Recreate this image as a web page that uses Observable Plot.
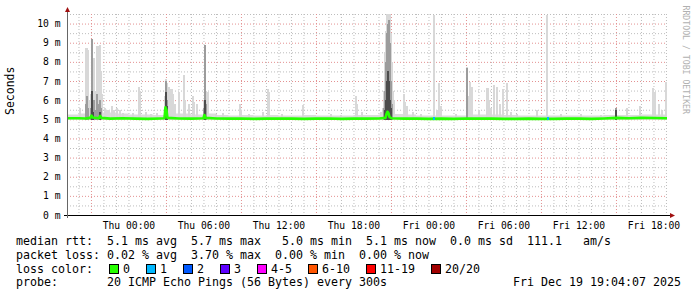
<!DOCTYPE html>
<html><head><meta charset="utf-8">
<script src="https://cdn.jsdelivr.net/npm/d3@7"></script>
<script src="https://cdn.jsdelivr.net/npm/@observablehq/plot@0.6"></script>
<style>
body{margin:0;background:#fff;}
#wrap{position:relative;width:697px;height:297px;overflow:hidden;background:#fff;font-family:"DejaVu Sans Mono",monospace;}
#chart{position:absolute;left:0;top:0;}
#legend{position:absolute;left:16px;top:235px;font-size:11.63px;line-height:13.8px;white-space:pre;color:#000;}
.sw{display:inline-block;width:8px;height:8px;border:1px solid #000;vertical-align:-1px;}
</style></head>
<body><div id="wrap"><div id="chart"></div><div id="legend"></div></div>
<script>
// ---- data (hours relative to Thu Dec 18 2025 00:00) ----
const xTickHours = [0, 6, 12, 18, 24, 30, 36, 42];
const xTickLabels = ["Thu 00:00","Thu 06:00","Thu 12:00","Thu 18:00","Fri 00:00","Fri 06:00","Fri 12:00","Fri 18:00"];
const yTicks = [0,1,2,3,4,5,6,7,8,9,10];
const yUnit = " m";

const minRtt = 4.98;
const baseHours = [-5,-4,-3,-2,-1,0,1,2,3,4,5,6,7,8,9,10,11,12,13,14,15,16,17,18,19,20,21,22,23,24,25,26,27,28,29,30,31,32,33,34,35,36,37,38,39,40,41,42,43,44];
const baseTop = [5.25,5.3,5.35,5.35,5.3,5.25,5.25,5.22,5.3,5.3,5.25,5.3,5.22,5.2,5.22,5.2,5.22,5.2,5.2,5.22,5.2,5.2,5.2,5.22,5.22,5.25,5.28,5.25,5.2,5.2,5.2,5.2,5.25,5.25,5.25,5.22,5.2,5.2,5.2,5.2,5.2,5.2,5.2,5.22,5.22,5.22,5.25,5.25,5.25,5.25];

const smokeHours = [-3.96,-3.48,-3.40,-3.32,-3.16,-3.08,-3.00,-2.92,-2.84,-2.76,-2.68,-2.60,-2.52,-2.44,-2.36,-2.28,-2.20,-1.96,-1.80,-1.64,-1.40,-1.24,-1.00,-0.76,-0.52,0.28,0.76,0.84,1.32,1.72,2.20,2.84,2.92,3.00,3.08,3.16,3.24,3.40,3.48,3.64,3.96,4.36,4.44,4.76,5.08,5.16,5.40,5.96,6.04,6.12,6.20,6.28,6.92,7.48,8.84,8.92,9.56,10.68,11.08,11.16,12.20,13.88,16.12,16.92,18.12,18.20,18.60,20.12,20.28,20.36,20.44,20.52,20.60,20.68,20.76,20.84,20.92,21.00,21.08,21.16,21.96,22.04,22.20,22.68,23.32,24.36,24.60,24.76,24.92,26.12,27.00,27.08,27.24,27.32,27.40,27.96,28.60,28.68,28.76,28.92,29.16,29.40,29.64,29.88,30.20,30.52,31.00,32.60,33.40,34.52,36.12,37.72,38.92,39.80,40.84,41.88,42.04,42.36,42.60,42.92,43.00];
const smokeTop = [5.6,8.7,8.75,8.6,6.0,6.3,9.2,6.8,8.2,6.5,6.0,8.85,8.85,6.8,8.9,7.5,6.3,5.6,5.5,5.5,5.7,5.5,5.6,5.5,5.35,5.35,6.7,6.5,5.4,5.3,5.35,6.2,7.1,6.9,6.0,6.7,6.6,6.6,6.3,5.8,6.4,7.3,6.0,5.8,6.2,5.9,5.8,6.0,8.9,6.5,6.2,6.4,5.3,5.35,5.8,5.5,5.3,5.4,6.6,6.4,5.3,5.75,5.3,5.25,6.2,5.8,5.4,5.4,5.6,6.5,8.5,9.6,10.5,10.5,10.5,10.5,9.5,8.0,6.5,6.0,6.3,5.9,5.7,5.4,5.3,10.47,5.5,6.9,5.7,5.3,7.75,6.2,6.95,5.6,6.7,5.5,6.65,6.65,6.0,5.6,6.8,6.7,5.8,6.6,6.9,5.4,5.3,5.5,10.47,5.3,5.3,5.25,5.6,5.6,5.7,6.65,6.4,5.8,5.5,6.95,6.0];
const smokeMid = [0,5.8,6.2,5.6,0,5.6,9.2,5.8,6.0,5.5,0,6.3,5.8,0,6.0,5.6,0,0,0,0,0,0,0,0,0,0,0,0,0,0,0,0,7.0,6.0,0,0,0,0,0,0,0,0,0,0,0,0,0,5.6,8.9,5.8,0,0,0,0,0,0,0,0,0,0,0,0,0,0,0,0,0,0,0,5.6,6.5,8.0,9.5,10.0,10.2,9.0,7.0,5.8,0,0,0,0,0,0,0,0,0,0,0,0,7.7,0,0,0,0,0,0,0,0,0,0,0,0,0,0,0,0,0,0,0,0,0,5.6,0,0,0,0,0,0,0,0];
const smokeLow = [0,0,0,0,0,0,6.5,5.4,0,0,0,0,0,0,5.4,0,0,0,0,0,0,0,0,0,0,0,0,0,0,0,0,0,6.4,5.7,0,0,0,0,0,0,0,0,0,0,0,0,0,0,6.0,0,0,0,0,0,0,0,0,0,0,0,0,0,0,0,0,0,0,0,0,0,5.5,6.0,7.0,7.5,7.0,6.0,5.6,0,0,0,0,0,0,0,0,0,0,0,0,0,0,0,0,0,0,0,0,0,0,0,0,0,0,0,0,0,0,0,0,0,0,0,5.5,0,0,0,0,0,0,0,0];

const medianHours = [-5,-4,-3.5,-3.1,-3.0,-2.9,-2.4,-2.3,-2.2,-1.5,-0.5,0.5,1.5,2.5,2.84,2.92,3.0,3.08,4,5,5.96,6.04,6.12,7,8,9,10,11,12,13,14,15,16,17,18,19,20,20.52,20.6,20.68,20.76,20.84,21,22,23,24,25,26,27,28,29,30,31,32,33,34,35,36,37,38,39,40,41,42,43,44];
const medianMs = [5.08,5.08,5.07,5.1,5.22,5.12,5.08,5.2,5.1,5.06,5.08,5.06,5.05,5.07,5.08,5.65,5.5,5.1,5.07,5.06,5.08,5.25,5.1,5.07,5.06,5.07,5.05,5.06,5.07,5.06,5.05,5.06,5.07,5.05,5.06,5.06,5.07,5.1,5.3,5.42,5.35,5.15,5.08,5.06,5.06,5.05,5.06,5.05,5.07,5.06,5.06,5.05,5.05,5.06,5.05,5.05,5.06,5.06,5.05,5.07,5.1,5.08,5.1,5.09,5.08,5.08];

const lossHours = [24.36, 33.48];
const lossCounts = [1, 1];
const lossLabels = ["0","1","2","3","4-5","6-10","11-19","20/20"];
const lossColors = ["#26ff00","#00b8ff","#0059ff","#5e00ff","#ff00fe","#ff5500","#ff0000","#a10000"];

const legendRtt  = "median rtt:  5.1 ms avg  5.7 ms max   5.0 ms min  5.1 ms now  0.0 ms sd  111.1   am/s";
const legendLoss = "packet loss: 0.02 % avg  3.70 % max  0.00 % min  0.00 % now";
const legendLossTitle = "loss color:";
const legendProbe = "probe:       20 ICMP Echo Pings (56 Bytes) every 300s                  Fri Dec 19 19:04:07 2025";
const yLabel = "Seconds";
const watermark = "RRDTOOL / TOBI OETIKER";

// ---- build ----
const thu0 = new Date(2025, 11, 18, 0, 0).getTime();
const T = h => new Date(thu0 + h * 3600e3);
const STEP = 5 * 60e3;
const start = T(-4 - 55/60), end = T(43 + 5/60);

const base = baseHours.map((h, i) => ({t: T(h), top: baseTop[i]}));
const smoke = smokeHours.map((h, i) => ({t: T(h), t2: new Date(+T(h) + 2 * STEP), top: smokeTop[i], mid: smokeMid[i], low: smokeLow[i]}));
const median = medianHours.map((h, i) => ({t: T(h), v: medianMs[i]}));
const medAt = t => { let v = median[0].v; for (const m of median) if (+m.t <= +t) v = m.v; return v; };
const loss = lossHours.map((h, i) => ({t: T(h), t2: new Date(+T(h) + 2*STEP), c: lossCounts[i]}));
const tickDates = xTickHours.map(T);
const tickMap = new Map(tickDates.map((d, i) => [+d, xTickLabels[i]]));

const allHours = d3.range(-4, 44);
const majorHours = allHours.filter(h => ((h % 6) + 6) % 6 === 3);
const minorHours = allHours.filter(h => ((h % 6) + 6) % 6 !== 3);
const majorY = d3.range(1, 11);
const minorY = d3.range(0.5, 10.6, 1);

const lossColor = c => c === 0 ? lossColors[0] : c === 1 ? lossColors[1] : c === 2 ? lossColors[2] : c === 3 ? lossColors[3] : c <= 5 ? lossColors[4] : c <= 10 ? lossColors[5] : c <= 19 ? lossColors[6] : lossColors[7];

const chart = Plot.plot({
  width: 697, height: 234,
  marginLeft: 67, marginRight: 30, marginTop: 14, marginBottom: 19,
  style: {fontFamily: "DejaVu Sans Mono", fontSize: "9.7px", background: "#fff", color: "#000", overflow: "visible"},
  x: {type: "time", domain: [start, end]},
  y: {domain: [0, 10.5]},
  marks: [
    Plot.ruleX(minorHours.map(T), {stroke: "#bdbdbd", strokeDasharray: "1,2"}),
    Plot.ruleY(minorY, {stroke: "#bdbdbd", strokeDasharray: "1,2"}),
    Plot.ruleX(majorHours.map(T), {stroke: "#e39191", strokeDasharray: "1,2"}),
    Plot.ruleY(majorY, {stroke: "#e39191", strokeDasharray: "1,2"}),
    Plot.areaY(base, {x: "t", y1: minRtt, y2: "top", fill: "#dcdcdc", curve: "step-after", clip: true}),
    Plot.rectY(smoke, {x1: "t", x2: "t2", y1: minRtt, y2: "top", fill: "#d8d8d8", shapeRendering: "crispEdges", clip: true}),
    Plot.rectY(smoke.filter(d => d.mid > 0), {x1: "t", x2: "t2", y1: minRtt, y2: "mid", fill: "#9c9c9c", shapeRendering: "crispEdges", clip: true}),
    Plot.rectY(smoke.filter(d => d.low > 0), {x1: "t", x2: "t2", y1: minRtt, y2: "low", fill: "#4c4c4c", shapeRendering: "crispEdges", clip: true}),
    Plot.line(median, {x: "t", y: "v", stroke: lossColors[0], strokeWidth: 2.6, clip: true}),
    Plot.rectY(loss, {x1: "t", x2: "t2", y1: d => medAt(d.t) - 0.08, y2: d => medAt(d.t) + 0.08, fill: d => lossColor(d.c), shapeRendering: "crispEdges"}),
    Plot.axisX({ticks: tickDates, tickFormat: d => tickMap.get(+d), tickSize: 0, tickPadding: 7, label: null, fontSize: 9.7}),
    Plot.axisY({ticks: yTicks, tickFormat: d => d + yUnit, tickSize: 0, tickPadding: 7, label: null, fontSize: 9.7}),
    Plot.text([yLabel], {frameAnchor: "left", dx: -57, rotate: -90, fontSize: 11.5, fill: "#000"}),
    Plot.text([watermark], {frameAnchor: "top-right", dx: 21, dy: -9, rotate: 90, textAnchor: "start", fill: "#b0b0b0", fontSize: 8.2})
  ]
});

// axes lines and arrows, positioned from the scales
const sx = chart.scale("x"), sy = chart.scale("y");
const [X0, X1] = sx.range, [Y0, Y1] = sy.range;
const svg = d3.select(chart);
svg.append("line").attr("x1", X0 - 3).attr("x2", X1 + 4).attr("y1", Y0 + 0.5).attr("y2", Y0 + 0.5).attr("stroke", "#000");
svg.append("line").attr("x1", X0 + 0.5).attr("x2", X0 + 0.5).attr("y1", Y0 + 3).attr("y2", Y1 - 3).attr("stroke", "#666");
svg.append("path").attr("d", `M${X1+3},${Y0-2}L${X1+8},${Y0+0.5}L${X1+3},${Y0+3}Z`).attr("fill", "#a01010");
svg.append("path").attr("d", `M${X0-2},${Y1-2}L${X0+0.5},${Y1-7}L${X0+3},${Y1-2}Z`).attr("fill", "#a01010");
document.getElementById("chart").appendChild(chart);

// legend
const lg = document.getElementById("legend");
const l1 = document.createElement("div"); l1.textContent = legendRtt; lg.appendChild(l1);
const l2 = document.createElement("div"); l2.textContent = legendLoss; lg.appendChild(l2);
const l3 = document.createElement("div"); l3.appendChild(document.createTextNode(legendLossTitle));
lossLabels.forEach((lab, i) => {
  const sw = document.createElement("span"); sw.className = "sw"; sw.style.background = lossColors[i]; sw.style.marginLeft = "16px";
  const tx = document.createElement("span"); tx.textContent = lab; tx.style.marginLeft = "4px";
  l3.appendChild(sw); l3.appendChild(tx);
});
lg.appendChild(l3);
const l4 = document.createElement("div"); l4.textContent = legendProbe; lg.appendChild(l4);
</script></body></html>
